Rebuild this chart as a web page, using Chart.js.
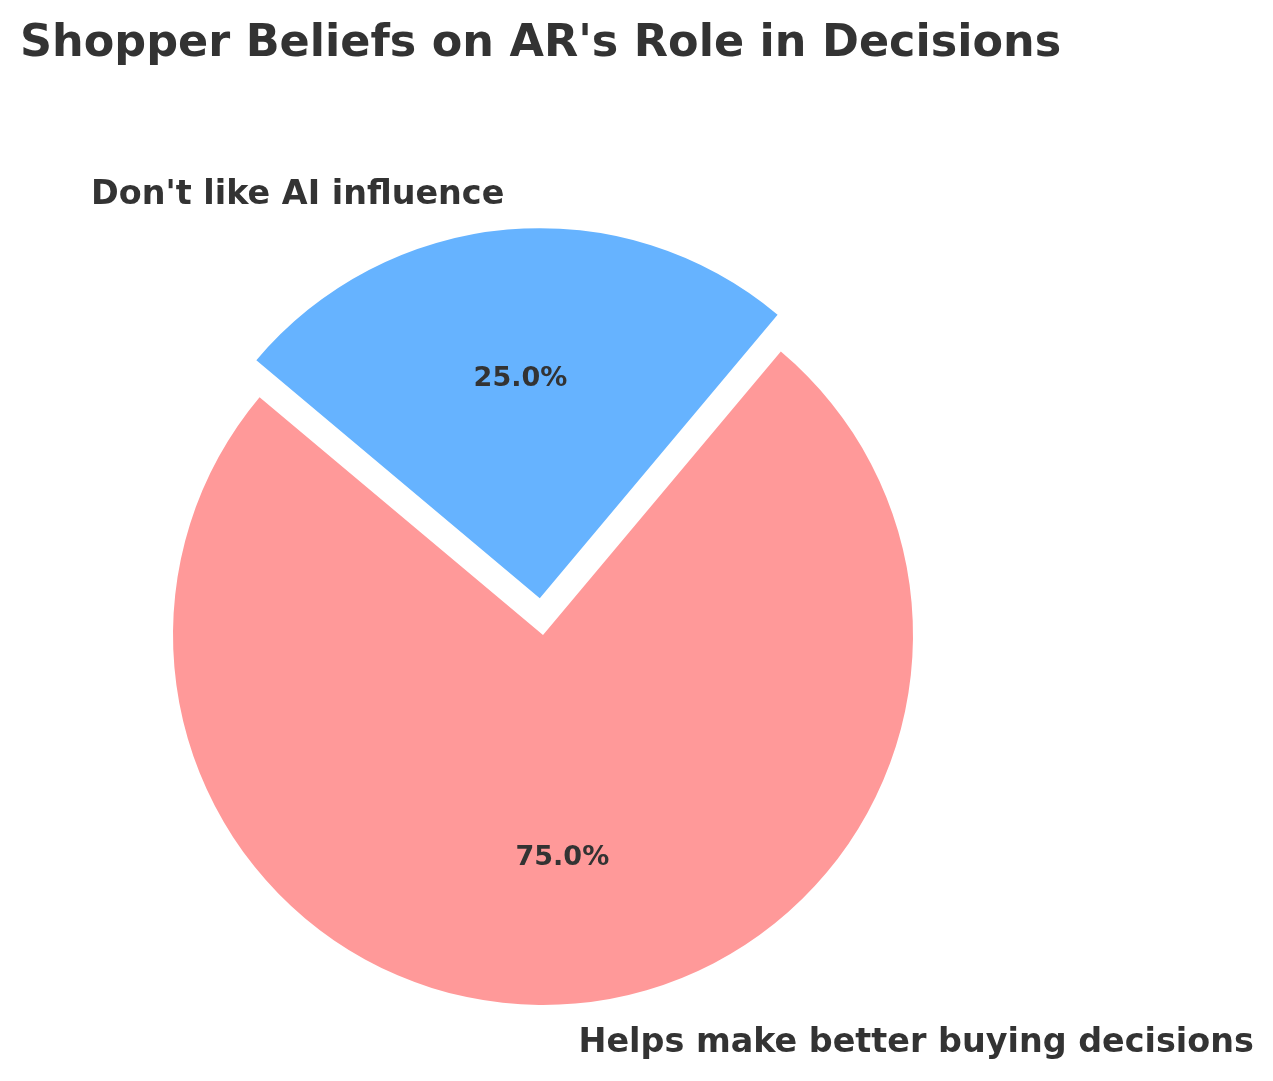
<!DOCTYPE html>
<html>
<head>
<meta charset="utf-8">
<script src="https://cdn.jsdelivr.net/npm/chart.js@4.4.1/dist/chart.umd.min.js"></script>
<style>
  html, body { margin: 0; padding: 0; background: #fff; }
  #wrap { width: 1273px; height: 1081px; }
</style>
</head>
<body>
<div id="wrap"><canvas id="myChart"></canvas></div>
<script>
const chartTitle = "Shopper Beliefs on AR's Role in Decisions";
const categories = ['Helps make better buying decisions', "Don't like AI influence"];
const shares = [75, 25];
const sliceColors = ['#ff9999', '#66b3ff'];
const explode = [0, 0.1];

const textColor = '#333333';
const fontFamily = "'DejaVu Sans', sans-serif";
const pieRadius = 370;

// draws title, outside labels and percentages like matplotlib's pie
const pieText = {
  id: 'pieText',
  afterDatasetsDraw(chart) {
    const c = chart.ctx;
    const meta = chart.getDatasetMeta(0);
    const total = shares.reduce((a, b) => a + b, 0);
    c.save();
    c.fillStyle = textColor;

    c.font = 'bold 44.5px ' + fontFamily;
    c.textAlign = 'left';
    c.textBaseline = 'alphabetic';
    c.fillText(chartTitle, 20, 56);

    meta.data.forEach((arc, i) => {
      const p = arc.getProps(['x', 'y', 'startAngle', 'endAngle', 'outerRadius']);
      const mid = (p.startAngle + p.endAngle) / 2;
      // chart.js arcs only move by offset / 4
      const off = (arc.options.offset || 0) / 4;
      const cx = p.x + Math.cos(mid) * off;
      const cy = p.y + Math.sin(mid) * off;

      const lx = cx + Math.cos(mid) * p.outerRadius * 1.1;
      const ly = cy + Math.sin(mid) * p.outerRadius * 1.1;
      c.font = 'bold 33.4px ' + fontFamily;
      c.textAlign = Math.cos(mid) < 0 ? 'right' : 'left';
      c.textBaseline = 'middle';
      c.fillText(categories[i], lx, ly + 3);

      const px = cx + Math.cos(mid) * p.outerRadius * 0.6;
      const py = cy + Math.sin(mid) * p.outerRadius * 0.6;
      c.font = 'bold 27px ' + fontFamily;
      c.textAlign = 'center';
      c.fillText((shares[i] / total * 100).toFixed(1) + '%', px, py + 2);
    });
    c.restore();
  }
};

const ctx = document.getElementById('myChart');

new Chart(ctx, {
  type: 'pie',
  data: {
    labels: categories,
    datasets: [{
      data: shares,
      backgroundColor: sliceColors,
      borderWidth: 0,
      offset: explode.map(e => e * pieRadius * 4)
    }]
  },
  options: {
    responsive: true,
    maintainAspectRatio: false,
    animation: false,
    rotation: 40,
    radius: pieRadius,
    layout: { padding: { left: 0, right: 187, top: 189, bottom: 0 } },
    plugins: {
      legend: { display: false },
      title: { display: false },
      tooltip: { enabled: false }
    }
  },
  plugins: [pieText]
});
</script>
</body>
</html>
